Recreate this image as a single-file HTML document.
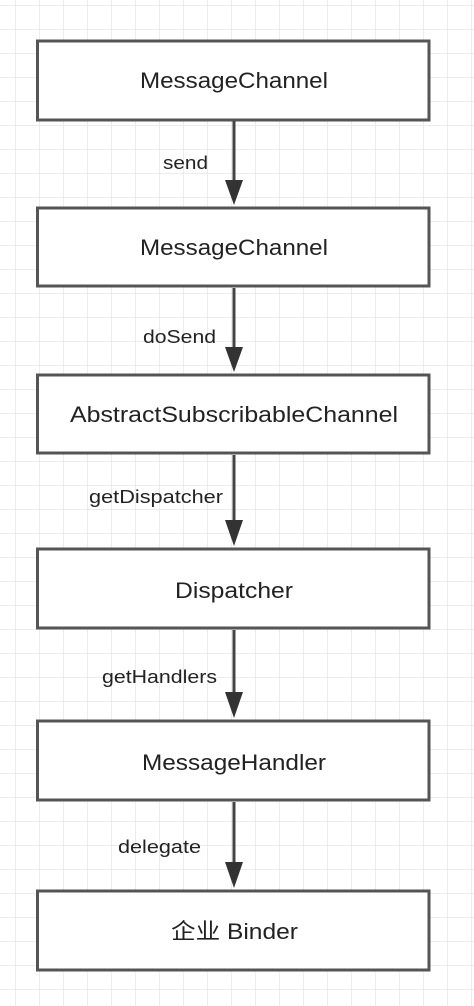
<!DOCTYPE html>
<html><head><meta charset="utf-8"><style>
html,body{margin:0;padding:0;background:#fff;}
svg{display:block;}
text{font-family:"Liberation Sans","Noto Sans CJK SC",sans-serif;fill:#222;}
</style></head><body>
<svg width="474" height="1006" viewBox="0 0 474 1006" xmlns="http://www.w3.org/2000/svg">
<defs>
<pattern id="g" x="15" y="5" width="24" height="24" patternUnits="userSpaceOnUse">
<path d="M0 0H24M0 0V24" stroke="#e6e6e6" stroke-width="1.5" fill="none"/>
</pattern>
</defs>
<rect width="474" height="1006" fill="url(#g)"/>
<g fill="#fff" stroke="#555" stroke-width="3">
<rect x="37.5" y="41" width="391.5" height="79"/>
<rect x="37.5" y="208" width="391.5" height="78"/>
<rect x="37.5" y="375" width="391.5" height="78"/>
<rect x="37.5" y="549" width="391.5" height="79"/>
<rect x="37.5" y="721" width="391.5" height="79"/>
<rect x="37.5" y="891" width="391.5" height="79"/>
</g>
<g stroke="#444" stroke-width="3">
<line x1="234" y1="121" x2="234" y2="185"/>
<line x1="234" y1="288" x2="234" y2="352"/>
<line x1="234" y1="455" x2="234" y2="525"/>
<line x1="234" y1="630" x2="234" y2="697"/>
<line x1="234" y1="802" x2="234" y2="867"/>
</g>
<g fill="#333">
<polygon points="225,180 243,180 234,205"/>
<polygon points="225,347 243,347 234,372"/>
<polygon points="225,520 243,520 234,546"/>
<polygon points="225,692 243,692 234,718"/>
<polygon points="225,862 243,862 234,888"/>
</g>
<g font-size="22">
<text x="140" y="88" textLength="188" lengthAdjust="spacingAndGlyphs">MessageChannel</text>
<text x="140" y="255" textLength="188" lengthAdjust="spacingAndGlyphs">MessageChannel</text>
<text x="70" y="422" textLength="328" lengthAdjust="spacingAndGlyphs">AbstractSubscribableChannel</text>
<text x="175" y="598" textLength="118" lengthAdjust="spacingAndGlyphs">Dispatcher</text>
<text x="142" y="770" textLength="184" lengthAdjust="spacingAndGlyphs">MessageHandler</text>
<text x="171" y="939" textLength="127" lengthAdjust="spacingAndGlyphs">企业 Binder</text>
</g>
<g font-size="18">
<text x="163" y="169" textLength="45" lengthAdjust="spacingAndGlyphs">send</text>
<text x="143" y="343" textLength="73" lengthAdjust="spacingAndGlyphs">doSend</text>
<text x="89" y="503" textLength="134" lengthAdjust="spacingAndGlyphs">getDispatcher</text>
<text x="102" y="683" textLength="115" lengthAdjust="spacingAndGlyphs">getHandlers</text>
<text x="118" y="853" textLength="83" lengthAdjust="spacingAndGlyphs">delegate</text>
</g>
</svg>
</body></html>
